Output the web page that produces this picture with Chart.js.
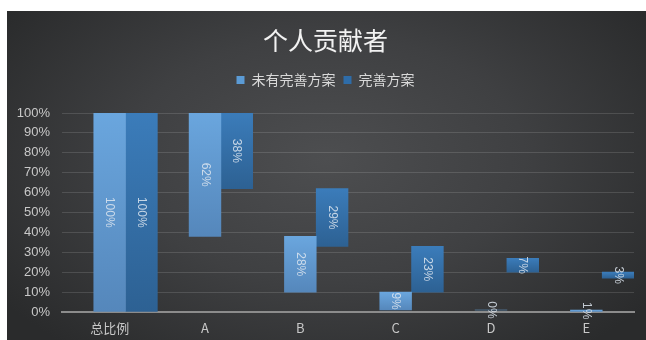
<!DOCTYPE html>
<html><head><meta charset="utf-8">
<script src="https://cdn.jsdelivr.net/npm/chart.js@4.4.0/dist/chart.umd.min.js"></script>
<style>
html,body{margin:0;padding:0;background:#fff;width:646px;height:340px;overflow:hidden}
#wrap{position:absolute;left:7px;top:11px;width:639px;height:329px;
background:radial-gradient(ellipse 62% 75% at 50% 45%, #4d4e50 0%, #3f4042 50%, #2a2b2c 100%);}
canvas{display:block}
</style></head><body>
<div id="wrap"><canvas id="c" width="639" height="329"></canvas></div>
<script>
const chartTitle = '个人贡献者';
const categories = ['总比例', 'A', 'B', 'C', 'D', 'E'];
const seriesNames = ['未有完善方案', '完善方案'];
// floating bars: base (start) and value (height), in percent
const noPlanBase  = [0, 38, 10, 1, 1, 0];
const noPlanValue = [100, 62, 28, 9, 0, 1];
const planBase    = [0, 62, 33, 10, 20, 17];
const planValue   = [100, 38, 29, 23, 7, 3];
const yTicks = [0, 10, 20, 30, 40, 50, 60, 70, 80, 90, 100];

const lightTop = '#6aa6de', lightBot = '#5587bb';
const darkTop = '#3b7cba', darkBot = '#2d6193';

function barGradient(top, bot) {
  return function (ctx) {
    const chart = ctx.chart;
    if (!chart.chartArea || ctx.type !== 'data' || !ctx.raw) return top;
    const y = chart.scales.y;
    const y0 = y.getPixelForValue(ctx.raw[1]);
    const y1 = y.getPixelForValue(ctx.raw[0]);
    if (!isFinite(y0) || !isFinite(y1) || y1 - y0 < 1) return top;
    const g = chart.ctx.createLinearGradient(0, y0, 0, y1);
    g.addColorStop(0, top);
    g.addColorStop(1, bot);
    return g;
  };
}

const floatData = (base, val) => base.map((b, i) => [b, b + val[i]]);

const labelPlugin = {
  id: 'rotLabels',
  afterDatasetsDraw(chart) {
    const ctx = chart.ctx;
    chart.data.datasets.forEach((ds, di) => {
      if (!ds.values) return;
      const meta = chart.getDatasetMeta(di);
      meta.data.forEach((el, i) => {
        const cx = el.x;
        const cy = (el.y + el.base) / 2;
        ctx.save();
        ctx.translate(cx, cy);
        ctx.rotate(Math.PI / 2);
        ctx.font = '12px "Liberation Sans", "Noto Sans CJK SC", sans-serif';
        ctx.fillStyle = 'rgba(222,230,240,0.85)';
        ctx.textAlign = 'center';
        ctx.textBaseline = 'middle';
        ctx.fillText(ds.values[i] + '%', 0, 0);
        ctx.restore();
      });
    });
  }
};

new Chart(document.getElementById('c'), {
  type: 'bar',
  data: {
    labels: categories,
    datasets: [
      // empty placeholder series (invisible base slot, as in the original clustered chart)
      { label: '', data: categories.map(() => null), backgroundColor: 'rgba(0,0,0,0)', spacer: true },
      { label: seriesNames[0], data: floatData(noPlanBase, noPlanValue), values: noPlanValue,
        backgroundColor: barGradient(lightTop, lightBot), legendColor: '#5b9bd5' },
      { label: seriesNames[1], data: floatData(planBase, planValue), values: planValue,
        backgroundColor: barGradient(darkTop, darkBot), legendColor: '#2e6ca8' }
    ]
  },
  options: {
    responsive: false,
    animation: false,
    devicePixelRatio: 1,
    categoryPercentage: 1,
    barPercentage: 1,
    borderSkipped: false,
    layout: { padding: { left: 10, right: 12, top: 0, bottom: 4 } },
    plugins: {
      title: {
        display: true, text: chartTitle, color: '#f2f2f2',
        font: { family: '"Noto Sans CJK SC", sans-serif', size: 25, weight: 'normal', lineHeight: 1.2 },
        padding: { top: 14, bottom: 10 }
      },
      subtitle: {
        display: true, text: '', weight: 500,
        font: { size: 16, lineHeight: 1 }, padding: 0
      },
      legend: {
        display: true, position: 'top',
        labels: {
          color: '#d9d9d9', boxWidth: 8, boxHeight: 8, padding: 8,
          font: { family: '"Noto Sans CJK SC", sans-serif', size: 14 },
          generateLabels(chart) {
            return chart.data.datasets
              .map((ds, i) => ({ ds, i }))
              .filter(o => !o.ds.spacer)
              .map(({ ds, i }) => ({
                text: ds.label, fillStyle: ds.legendColor, strokeStyle: ds.legendColor,
                lineWidth: 0, hidden: false, datasetIndex: i, fontColor: '#d9d9d9'
              }));
          }
        }
      },
      tooltip: { enabled: false }
    },
    scales: {
      x: {
        grid: { display: false, drawTicks: false },
        border: { display: true, color: '#8c8c8c', width: 2 },
        ticks: { color: '#c8c8c8', padding: 8,
          font: { family: '"Noto Sans CJK SC", sans-serif', size: 13 } },
        afterFit(s) { s.height = 24; }
      },
      y: {
        min: 0, max: 100,
        afterBuildTicks(s) { s.ticks = yTicks.map(v => ({ value: v })); },
        grid: { color: 'rgba(255,255,255,0.13)', lineWidth: 1, drawTicks: false },
        border: { display: false },
        ticks: { color: '#c8c8c8', padding: 12, callback: v => v + '%',
          font: { family: '"Liberation Sans", sans-serif', size: 13 } },
        afterFit(s) { s.width = 45; }
      }
    }
  },
  plugins: [labelPlugin]
});
</script>
</body></html>
